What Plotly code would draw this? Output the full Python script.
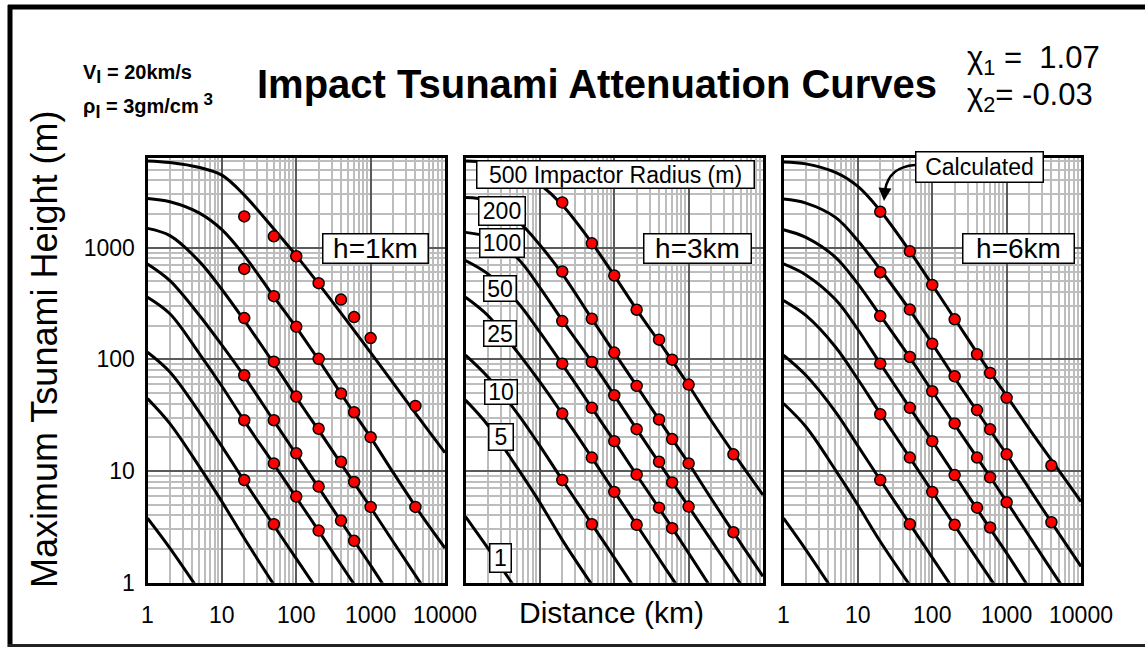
import plotly.graph_objects as go

W, H = 1145, 647

# ---------------- data ----------------
RADII = [500, 200, 100, 50, 25, 10, 5, 1]                 # impactor radius (m)
CURVE_DIST = [1, 2, 5, 10, 20, 50, 100, 200, 500, 1000, 2000, 5000, 10000]  # km
DOT_DIST = [20, 50, 100, 200, 400, 600, 1000, 4000]       # km
X_TICKS = [1, 10, 100, 1000, 10000]
Y_TICKS = [1, 10, 100, 1000]

# h = 1 km : curve heights (m)
H1_R500 = [5980, 5780, 5215, 4456, 2953, 1468, 849, 474, 213, 115, 61.5, 27.0, 14.6]
H1_R200 = [2756, 2575, 2040, 1448, 849, 363, 193, 98.6, 39.4, 20.0, 9.73, 3.88, 2.04]
H1_R100 = [1488, 1280, 750, 422, 223, 91.5, 45.5, 23.2, 9.34, 4.71, 2.34, 0.93]
H1_R50 = [715, 507, 247, 134, 70.5, 28.1, 14.1, 7.10, 2.83, 1.43, 0.70]
H1_R25 = [360, 256, 112, 57.4, 28.1, 11.5, 5.78, 2.91, 1.16, 0.59]
H1_R10 = [116, 77.1, 33.4, 16.6, 8.14, 3.25, 1.64, 0.83]
H1_R5 = [44.6, 26.6, 10.9, 5.32, 2.50, 0.96]
H1_R1 = [3.78, 2.04, 0.84]

# h = 3 km
H3_R500 = [5980, 5780, 4970, 3700, 2404, 1101, 562, 279, 116, 58.6, 28.5, 11.7, 6.10]
H3_R200 = [2813, 2629, 1742, 1056, 582, 231, 115, 57.8, 23.1, 11.7, 5.70, 2.26, 1.14]
H3_R100 = [1370, 1237, 803, 439, 223, 94.7, 47.7, 23.7, 9.53, 4.80, 2.42, 0.97]
H3_R50 = [766, 582, 325, 175, 90.2, 36.8, 18.5, 9.21, 3.73, 1.84, 0.90]
H3_R25 = [360, 247, 116, 62.8, 32.5, 13.2, 6.54, 3.30, 1.31, 0.66]
H3_R10 = [109, 69.5, 32.7, 16.8, 8.31, 3.34, 1.68, 0.84]
H3_R5 = [43.1, 25.7, 10.6, 5.21, 2.42, 0.96]
H3_R1 = [3.91, 2.04, 0.84]

# h = 6 km
H6_R500 = [5860, 5623, 4710, 3530, 2140, 927, 464, 231, 91.5, 47.1, 24.0, 10.2, 5.32]
H6_R200 = [2720, 2505, 1866, 1155, 637, 276, 138, 68.1, 27.6, 14.1, 7.00, 2.78, 1.40]
H6_R100 = [1448, 1237, 820, 474, 247, 103.5, 51.8, 26.1, 10.6, 5.32, 2.63, 1.04, 0.525]
H6_R50 = [715, 570, 343, 185, 91.5, 36.8, 18.5, 9.21, 3.65, 1.84, 0.90]
H6_R25 = [336, 247, 129, 66.3, 32.7, 13.2, 6.54, 3.25, 1.31, 0.66]
H6_R10 = [109, 72.0, 33.9, 16.8, 8.31, 3.34, 1.68, 0.84]
H6_R5 = [40.2, 24.9, 10.2, 4.97, 2.34, 0.95]
H6_R1 = [3.78, 1.97, 0.79]

# calculated points (red dots), heights (m)
H1_DOTS_500 = [1905, 1262, 837, 481, 343, 239, 155, 38.3]
H1_DOTS_200 = [645, 368, 196, 101, 49.4, 33.6, 20.1, 4.77]
H1_DOTS_100 = [234, 95.3, 46.4, 23.9, 12.1, 7.98, 4.77]
H1_DOTS_50 = [72.0, 28.5, 14.4, 7.25, 3.60, 2.37]
H1_DOTS_25 = [28.5, 11.7, 5.90, 2.93]
H1_DOTS_10 = [8.30, 3.34]

H3_DOTS_500 = [2540, 1093, 562, 278, 150, 99.3, 59.4, 14.1]
H3_DOTS_200 = [611, 231, 115, 57.8, 28.9, 19.3, 11.7, 2.83]
H3_DOTS_100 = [220, 94.7, 47.7, 23.7, 12.1, 7.90, 4.80]
H3_DOTS_50 = [91.5, 36.8, 18.5, 9.30, 4.70, 3.08]
H3_DOTS_25 = [32.7, 13.2, 6.50, 3.30]
H3_DOTS_10 = [8.30, 3.34]

H6_DOTS_500 = [2096, 927, 464, 228, 111, 75.5, 45.2, 11.2]
H6_DOTS_200 = [602, 279, 138, 70.5, 35.1, 23.6, 14.1, 3.48]
H6_DOTS_100 = [244, 105, 51.8, 26.7, 13.2, 8.78, 5.25]
H6_DOTS_50 = [91.5, 36.8, 18.5, 9.20, 4.70, 3.12]
H6_DOTS_25 = [32.3, 13.2, 6.50, 3.30]
H6_DOTS_10 = [8.30, 3.34]

PANEL_LABELS = ["h=1km", "h=3km", "h=6km"]

# ---------------- figure ----------------
FONT = "Liberation Sans, Arial, Helvetica, sans-serif"


def px(x):
    return x / W


def py(y):
    return 1 - y / H


panels = [
    ([H1_R500, H1_R200, H1_R100, H1_R50, H1_R25, H1_R10, H1_R5, H1_R1],
     [H1_DOTS_500, H1_DOTS_200, H1_DOTS_100, H1_DOTS_50, H1_DOTS_25, H1_DOTS_10]),
    ([H3_R500, H3_R200, H3_R100, H3_R50, H3_R25, H3_R10, H3_R5, H3_R1],
     [H3_DOTS_500, H3_DOTS_200, H3_DOTS_100, H3_DOTS_50, H3_DOTS_25, H3_DOTS_10]),
    ([H6_R500, H6_R200, H6_R100, H6_R50, H6_R25, H6_R10, H6_R5, H6_R1],
     [H6_DOTS_500, H6_DOTS_200, H6_DOTS_100, H6_DOTS_50, H6_DOTS_25, H6_DOTS_10]),
]

fig = go.Figure()
for i, (curves, dots) in enumerate(panels):
    xa = "x" if i == 0 else f"x{i+1}"
    ya = "y" if i == 0 else f"y{i+1}"
    for rad, hs in zip(RADII, curves):
        fig.add_trace(go.Scatter(
            x=CURVE_DIST[:len(hs)], y=hs, mode="lines",
            line=dict(color="black", width=3, shape="spline", smoothing=1.0),
            xaxis=xa, yaxis=ya, showlegend=False, hoverinfo="skip",
            name=f"{rad} m"))
    for hs in dots:
        fig.add_trace(go.Scatter(
            x=DOT_DIST[:len(hs)], y=hs, mode="markers",
            marker=dict(color="#ff0000", size=11,
                        line=dict(color="black", width=1.5)),
            xaxis=xa, yaxis=ya, showlegend=False, hoverinfo="skip"))

X_DOMS = [(147.5, 445.0), (465.5, 763.0), (783.5, 1081.0)]
Y_DOM = (582.7, 158.3)

layout = dict(
    width=W, height=H, autosize=False,
    margin=dict(l=0, r=0, t=0, b=0, pad=0, autoexpand=False),
    paper_bgcolor="white", plot_bgcolor="white",
    font=dict(family=FONT, color="black"),
    showlegend=False,
)

GRID_MAJOR = "#5a5a5a"
GRID_MINOR = "#bdbdbd"

for i, dom in enumerate(X_DOMS):
    sx = "" if i == 0 else str(i + 1)
    layout["xaxis" + sx] = dict(
        type="log", domain=[px(dom[0]), px(dom[1])], range=[0, 4],
        tickmode="array", tickvals=X_TICKS, ticktext=[str(v) for v in X_TICKS],
        showgrid=True, gridcolor=GRID_MAJOR, gridwidth=2.2,
        minor=dict(dtick="D1", showgrid=True, gridcolor=GRID_MINOR, gridwidth=1.5),
        showline=True, mirror=True, linecolor="black", linewidth=3,
        ticks="", showticklabels=(i != 1), ticklabelstandoff=10,
        tickfont=dict(size=23, family=FONT, color="black"),
        automargin=False,
        zeroline=False, fixedrange=True, anchor="y" + sx)
    layout["yaxis" + sx] = dict(
        type="log", domain=[py(Y_DOM[0]), py(Y_DOM[1])], range=[0, 3.80],
        tickmode="array", tickvals=Y_TICKS, ticktext=[str(v) for v in Y_TICKS],
        showgrid=True, gridcolor=GRID_MAJOR, gridwidth=2.2,
        minor=dict(dtick="D1", showgrid=True, gridcolor=GRID_MINOR, gridwidth=1.5),
        showline=True, mirror=True, linecolor="black", linewidth=3,
        ticks="", showticklabels=(i == 0), ticklabelstandoff=5,
        tickfont=dict(size=23, family=FONT, color="black"),
        automargin=False,
        zeroline=False, fixedrange=True, anchor="x" + sx)

fig.update_layout(**layout)

ann = []


def text(x, y, s, size, xanchor="center", yanchor="middle", **kw):
    d = dict(xref="paper", yref="paper", x=px(x), y=py(y), text=s,
             showarrow=False, xanchor=xanchor, yanchor=yanchor,
             font=dict(size=size, family=FONT, color="black"))
    d.update(kw)
    ann.append(d)


def boxed(cx, cy, s, size, w, h):
    text(cx, cy, s, size, bgcolor="white", bordercolor="black", borderwidth=1.5,
         borderpad=0, width=w, height=h)


# title and side notes
text(597, 84, "<b>Impact Tsunami Attenuation Curves</b>", 40)
text(81, 74, "<b>V<sub><span style='font-size:18px'>I</span></sub> = 20km/s</b>", 20,
     xanchor="left")
text(81, 106, "<b>ρ<sub><span style='font-size:18px'>I</span></sub> = 3gm/cm"
     "<sup><span style='font-size:17px'> 3</span></sup></b>", 20, xanchor="left")
text(965, 60, "χ<sub>1</sub> =  1.07", 31, xanchor="left")
text(965, 97, "χ<sub>2</sub>= -0.03", 31, xanchor="left")

# axis titles
text(44, 350, "Maximum Tsunami Height (m)", 36, textangle=-90)
text(611, 612, "Distance (km)", 30)

# panel labels
boxed(375, 249, "h=1km", 28, 104, 28)
boxed(697, 249, "h=3km", 28, 106, 28)
boxed(1018, 249, "h=6km", 28, 110, 28)

# radius labels (panel 2)
boxed(615, 175, "500 Impactor Radius (m)", 23, 276, 26)
boxed(502, 211, "200", 23, 45, 27)
boxed(502, 243, "100", 23, 43, 27)
boxed(500, 288, "50", 23, 31, 24)
boxed(500, 333, "25", 23, 31, 24)
boxed(501, 392, "10", 23, 31, 23)
boxed(501, 437, "5", 23, 23, 25)
boxed(500, 558, "1", 23, 20, 27)

# "Calculated" callout (panel 3)
boxed(979, 167, "Calculated", 23, 126, 29)
ann.append(dict(xref="paper", yref="paper", x=px(884), y=py(201),
                ax=1, ay=-13,
                text="", showarrow=True, arrowhead=2, arrowsize=1.3,
                arrowwidth=2, arrowcolor="black"))

fig.update_layout(annotations=ann)

shapes = [
    # curved arrow stem
    dict(type="path", xref="paper", yref="paper",
         path=f"M {px(915)},{py(165)} Q {px(889)},{py(167)} {px(885)},{py(190)}",
         line=dict(color="black", width=2.5)),
    # outer frame
    dict(type="line", xref="paper", yref="paper", x0=px(8), x1=px(1145),
         y0=py(7), y1=py(7), line=dict(color="black", width=5)),
    dict(type="line", xref="paper", yref="paper", x0=px(10), x1=px(10),
         y0=py(5), y1=py(647), line=dict(color="black", width=5)),
    dict(type="line", xref="paper", yref="paper", x0=px(8), x1=px(1145),
         y0=py(645.5), y1=py(645.5), line=dict(color="#222222", width=3)),
]
fig.update_layout(shapes=shapes)

fig.write_html("out.html")
